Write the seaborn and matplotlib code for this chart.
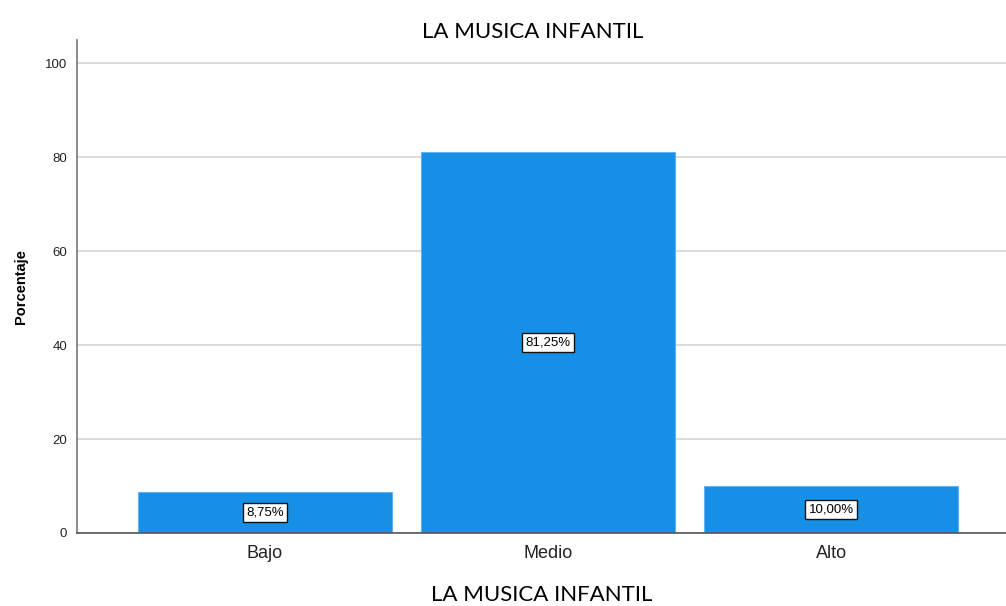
import matplotlib
matplotlib.use("Agg")
import matplotlib.pyplot as plt
import pandas as pd
import seaborn as sns

categories = ["Bajo", "Medio", "Alto"]
percentages = [8.75, 81.25, 10.00]
value_labels = ["8,75%", "81,25%", "10,00%"]
y_ticks = [0, 20, 40, 60, 80, 100]

title_text = "LA MUSICA INFANTIL"
x_label = "LA MUSICA INFANTIL"
y_label = "Porcentaje"

bar_color = "#1590e6"

sns.set_style("white")
plt.rcParams["font.family"] = ["Liberation Sans", "DejaVu Sans"]

df = pd.DataFrame({"cat": categories, "pct": percentages})

fig = plt.figure(figsize=(10.06, 6.06), dpi=100)
ax = fig.add_axes([0.0765, 0.1205, 0.9235, 0.8135])

sns.barplot(data=df, x="cat", y="pct", color=bar_color, saturation=1,
            width=0.897, edgecolor="#5fb3ee", linewidth=0.8, ax=ax)

ax.set_xlim(-0.664, 2.618)
ax.set_ylim(0, 105)
ax.set_yticks(y_ticks)
ax.set_yticklabels([str(t) for t in y_ticks], fontsize=9.5)
ax.tick_params(axis="x", labelsize=13, length=0, pad=9, colors="#222222")
ax.tick_params(axis="y", length=4, width=0.8, colors="#222222", direction="out", pad=3)

ax.yaxis.grid(True, color="#d4d4d4", linewidth=1.2)
ax.set_axisbelow(True)
for side in ["top", "right"]:
    ax.spines[side].set_visible(False)
ax.spines["left"].set_color("#777777")
ax.spines["bottom"].set_color("#555555")
ax.spines["left"].set_linewidth(1.2)
ax.spines["bottom"].set_linewidth(1.2)

for i, (v, lab) in enumerate(zip(percentages, value_labels)):
    ax.text(i, v / 2, lab, ha="center", va="center", fontsize=9.5, color="black",
            bbox=dict(boxstyle="square,pad=0.25", facecolor="white",
                      edgecolor="#111111", linewidth=1))

ax.set_xlabel(x_label, fontsize=16, family=["Lato", "DejaVu Sans"], labelpad=16,
              color="black")
ax.set_ylabel(y_label, fontsize=10.5, fontweight="bold", labelpad=12, color="black")
fig.text(0.53, 0.948, title_text, ha="center", va="center", fontsize=16,
         family=["Lato", "DejaVu Sans"], color="black")

fig.savefig("out.png", dpi=100)
